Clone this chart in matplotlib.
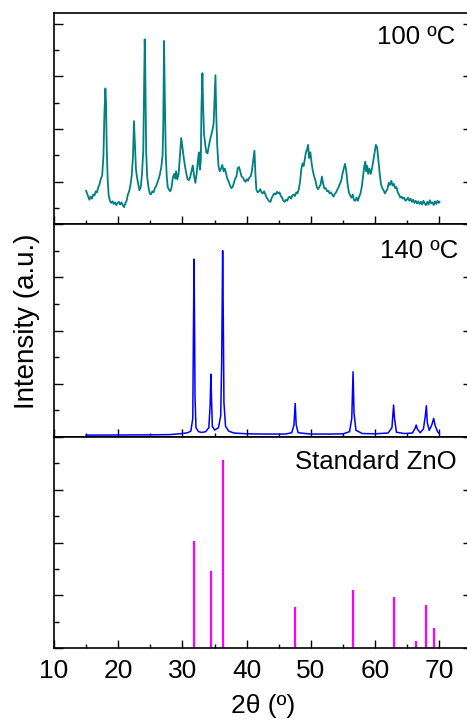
import numpy as np
import matplotlib.pyplot as plt
from matplotlib.ticker import MultipleLocator

plt.rcParams['font.family'] = ['Liberation Sans', 'DejaVu Sans']

TEAL, BLUE, MAGENTA = '#008080', '#0000FF', '#FF00FF'

# ── 100 ºC sample: (2θ, counts) ─────────────────────────────────────────────
tt_100 = [
    15.0, 15.2, 15.4, 15.5, 15.7, 15.9, 16.1, 16.3, 16.5, 16.7, 16.9, 17.1,
    17.3, 17.5, 17.7, 17.85, 18.0, 18.1, 18.2, 18.35, 18.5, 18.7, 18.9, 19.1,
    19.3, 19.5, 19.7, 19.9, 20.1, 20.3, 20.5, 20.7, 20.9, 21.1, 21.3, 21.5,
    21.7, 21.9, 22.1, 22.3, 22.45, 22.6, 22.75, 22.9, 23.1, 23.3, 23.5, 23.7,
    23.9, 24.05, 24.12, 24.2, 24.35, 24.5, 24.7, 24.9, 25.1, 25.3, 25.5, 25.7,
    25.9, 26.1, 26.3, 26.5, 26.7, 26.9, 27.0, 27.13, 27.25, 27.4, 27.55, 27.7,
    27.9, 28.1, 28.3, 28.5, 28.7, 28.9, 29.0, 29.2, 29.4, 29.6, 29.8, 30.0,
    30.2, 30.4, 30.6, 30.8, 31.0, 31.2, 31.4, 31.6, 31.8, 32.0, 32.2, 32.4,
    32.55, 32.7, 32.85, 32.95, 33.1, 33.2, 33.35, 33.5, 33.7, 33.9, 34.1, 34.3,
    34.5, 34.7, 34.85, 35.0, 35.13, 35.25, 35.4, 35.6, 35.8, 36.0, 36.2, 36.4,
    36.6, 36.8, 37.0, 37.2, 37.4, 37.6, 37.8, 38.0, 38.2, 38.4, 38.6, 38.8,
    39.0, 39.2, 39.4, 39.6, 39.8, 40.0, 40.2, 40.4, 40.6, 40.8, 41.0, 41.2,
    41.35, 41.5, 41.7, 41.9, 42.1, 42.3, 42.5, 42.7, 42.9, 43.1, 43.3, 43.5,
    43.7, 43.9, 44.1, 44.3, 44.5, 44.7, 44.9, 45.1, 45.3, 45.5, 45.7, 45.9,
    46.1, 46.3, 46.5, 46.7, 46.9, 47.1, 47.3, 47.5, 47.7, 47.9, 48.1, 48.3,
    48.5, 48.7, 48.85, 49.0, 49.2, 49.4, 49.55, 49.7, 49.9, 50.1, 50.3, 50.5,
    50.7, 50.9, 51.1, 51.3, 51.5, 51.7, 51.9, 52.1, 52.3, 52.5, 52.7, 52.9,
    53.1, 53.3, 53.5, 53.7, 53.9, 54.1, 54.3, 54.5, 54.7, 54.9, 55.1, 55.3,
    55.5, 55.7, 55.9, 56.1, 56.3, 56.5, 56.7, 56.9, 57.1, 57.3, 57.5, 57.7,
    57.9, 58.1, 58.3, 58.45, 58.6, 58.75, 58.9, 59.1, 59.3, 59.5, 59.7, 59.9,
    60.1, 60.3, 60.5, 60.7, 60.9, 61.1, 61.3, 61.5, 61.7, 61.9, 62.1, 62.3,
    62.5, 62.7, 62.9, 63.1, 63.3, 63.5, 63.7, 63.9, 64.1, 64.3, 64.5, 64.7,
    64.9, 65.1, 65.3, 65.5, 65.7, 65.9, 66.1, 66.3, 66.5, 66.7, 66.9, 67.1,
    67.3, 67.5, 67.7, 67.9, 68.1, 68.3, 68.5, 68.7, 68.9, 69.1, 69.3, 69.5,
    69.7, 69.9, 70.0,
]
int_100 = [
    830, 760, 690, 660, 720, 680, 760, 740, 820, 800, 900, 960,
    1060, 1120, 1500, 2300, 2770, 2500, 1700, 1050, 760, 640, 600, 630,
    580, 610, 560, 600, 620, 570, 610, 560, 520, 590, 640, 760,
    820, 940, 1120, 1500, 2150, 1700, 1250, 1100, 960, 840, 900, 1150,
    1600, 3000, 3700, 3200, 1550, 1100, 900, 780, 760, 820, 800, 880,
    920, 990, 1060, 1150, 1280, 1500, 2000, 3670, 2600, 1500, 1100, 900,
    850, 820, 900, 1080, 1150, 1060, 1200, 1050, 1150, 1500, 1830, 1650,
    1450, 1290, 1150, 1050, 1030, 1090, 1200, 1310, 1120, 980, 1150, 1400,
    1560, 1230, 1400, 2400, 3060, 2500, 1900, 1750, 1560, 1540, 1680, 1800,
    1900, 2000, 2110, 2600, 3020, 2300, 1700, 1300, 1200, 1250, 1320, 1200,
    1250, 1150, 1050, 1000, 930, 880, 900, 980, 1060, 1100, 1260, 1280,
    1190, 1100, 1080, 1030, 1000, 1050, 1020, 1080, 1100, 1200, 1400, 1590,
    1150, 850, 800, 820, 860, 800, 780, 820, 760, 700, 660, 630,
    620, 700, 740, 780, 760, 810, 780, 800, 730, 700, 640, 620,
    660, 640, 700, 720, 680, 740, 760, 730, 800, 780, 860, 1000,
    1250, 1350, 1300, 1400, 1550, 1620, 1700, 1450, 1560, 1350, 1200, 1100,
    1020, 900, 860, 900, 950, 1100, 960, 870, 880, 820, 830, 780,
    800, 760, 720, 770, 800, 850, 900, 960, 1020, 1150, 1250, 1340,
    1200, 950, 800, 740, 700, 760, 650, 640, 700, 640, 720, 780,
    900, 1100, 1300, 1380, 1200, 1300, 1150, 1250, 1150, 1250, 1400, 1550,
    1700, 1650, 1400, 1150, 950, 880, 840, 780, 820, 860, 980, 940,
    1020, 930, 960, 880, 900, 800, 760, 700, 720, 680, 700, 640,
    660, 700, 640, 680, 620, 660, 600, 640, 590, 630, 580, 620,
    570, 640, 590, 560, 620, 570, 650, 590, 610, 560, 630, 580,
    640, 600, 620,
]

# ── 140 ºC sample ───────────────────────────────────────────────────────────
tt_140 = [
    15.0, 20.0, 25.0, 28.0, 29.0, 30.0, 30.8, 31.3, 31.6, 31.72, 31.8, 31.88,
    31.95, 32.1, 32.5, 33.0, 33.6, 34.1, 34.3, 34.42, 34.52, 34.65, 35.0, 35.6,
    35.95, 36.1, 36.25, 36.35, 36.45, 36.7, 37.2, 38.0, 40.0, 43.0, 46.0, 47.0,
    47.35, 47.54, 47.7, 48.0, 50.0, 53.0, 55.0, 56.0, 56.35, 56.55, 56.7, 57.0,
    58.0, 60.0, 62.0, 62.6, 62.86, 63.0, 63.3, 64.5, 65.8, 66.2, 66.38, 66.55,
    67.0, 67.5, 67.8, 67.96, 68.1, 68.4, 68.8, 69.1, 69.3, 69.7, 70.0,
]
int_140 = [
    70, 75, 80, 90, 110, 130, 160, 220, 700, 4500, 6680, 4200,
    1500, 350, 200, 170, 200, 350, 1200, 2360, 1400, 400, 260, 350,
    800, 2800, 7000, 4500, 1300, 400, 220, 150, 120, 110, 110, 160,
    450, 1260, 450, 160, 110, 110, 120, 200, 700, 2450, 900, 250,
    130, 120, 150, 350, 1200, 700, 180, 130, 150, 330, 450, 300,
    160, 300, 800, 1175, 550, 250, 450, 700, 450, 200, 120,
]

# ── Standard ZnO reference lines ────────────────────────────────────────────
tt_ref = [31.77, 34.42, 36.25, 47.54, 56.60, 62.86, 66.38, 67.96, 69.10]
int_ref = [57, 41, 100, 22, 31, 27, 4, 23, 11]

W, H = 467, 719
fig = plt.figure(figsize=(W / 100, H / 100), dpi=100)

left, right = 54 / W, 471.6 / W
edges = [13, 224, 437, 648.3]
axes = []
for i in range(3):
    top_px, bot_px = edges[i], edges[i + 1]
    ax = fig.add_axes([left, 1 - bot_px / H, right - left, (bot_px - top_px) / H])
    axes.append(ax)
ax1, ax2, ax3 = axes

ax1.plot(tt_100, int_100, color=TEAL, lw=1.3)
ax1.set_ylim(200, 4200)
ax1.yaxis.set_major_locator(MultipleLocator(1000))
ax1.yaxis.set_minor_locator(MultipleLocator(500))

ax2.plot(tt_140, int_140, color=BLUE, lw=1.1)
ax2.set_ylim(0, 8000)
ax2.yaxis.set_major_locator(MultipleLocator(2000))
ax2.yaxis.set_minor_locator(MultipleLocator(1000))

ax3.vlines(tt_ref, 0, int_ref, color=MAGENTA, lw=1.6)
ax3.set_ylim(0, 112)
ax3.yaxis.set_major_locator(MultipleLocator(28))
ax3.yaxis.set_minor_locator(MultipleLocator(14))

labels = ['100 ºC', '140 ºC', 'Standard ZnO']
label_x = [455, 458, 457]
label_y = [37, 251, 462]
for ax, lab, lx, ly in zip(axes, labels, label_x, label_y):
    ax.set_xlim(10, 75)
    ax.xaxis.set_major_locator(MultipleLocator(10))
    ax.xaxis.set_minor_locator(MultipleLocator(5))
    for s in ax.spines.values():
        s.set_linewidth(1.2)
    ax.tick_params(which='both', direction='in', width=1.0, top=False)
    ax.tick_params(axis='x', which='major', length=5.5)
    ax.tick_params(axis='x', which='minor', length=3)
    ax.tick_params(axis='y', which='major', length=6.5, right=True, labelleft=False)
    ax.tick_params(axis='y', which='minor', length=3.5, right=False)
    if ax is not ax3:
        ax.tick_params(axis='x', labelbottom=False)
    fig.text(lx / W, 1 - ly / H, lab, ha='right', va='center', fontsize=18.5)

ax3.tick_params(axis='x', which='major', labelsize=19, pad=7.5)
ax3.set_xlabel('2θ (º)', fontsize=19, labelpad=8)

fig.text(27 / W, 1 - 321 / H, 'Intensity (a.u.)', rotation=90,
         ha='center', va='center', fontsize=20)

fig.savefig('out.png', dpi=100)
